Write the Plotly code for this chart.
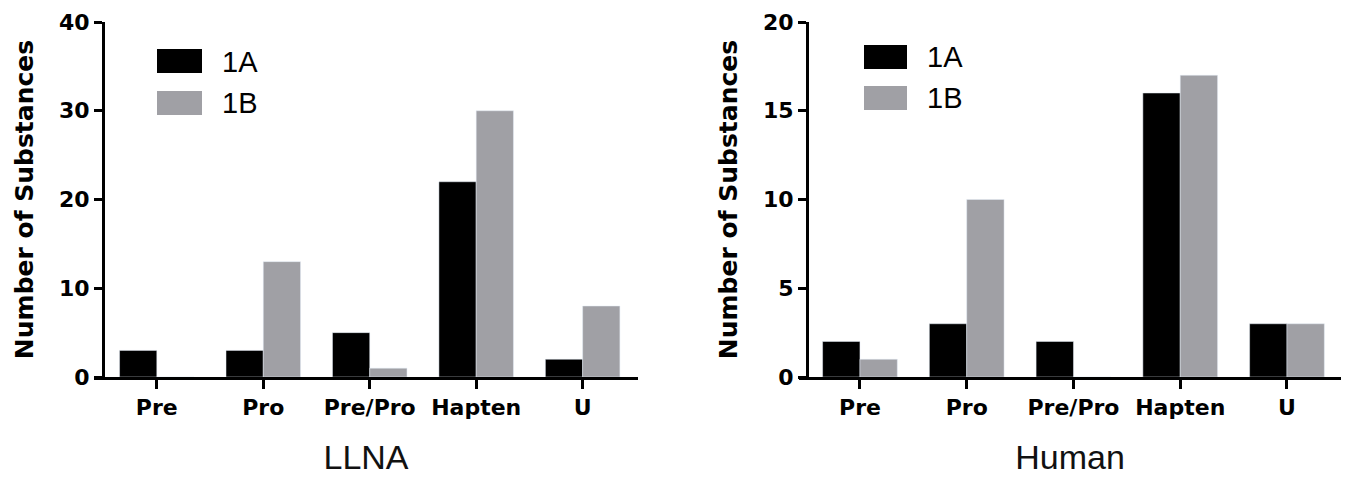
import plotly.graph_objects as go

categories = ["Pre", "Pro", "Pre/Pro", "Hapten", "U"]
llna_1a = [3, 3, 5, 22, 2]
llna_1b = [0, 13, 1, 30, 8]
human_1a = [2, 3, 2, 16, 3]
human_1b = [1, 10, 0, 17, 3]
series_names = ["1A", "1B"]
llna_ticks = [0, 10, 20, 30, 40]
human_ticks = [0, 5, 10, 15, 20]

BLACK = "#000000"
GRAY = "#a0a0a5"
W, H = 1350, 479
T, B = 22, 102
PH = H - T - B

fig = go.Figure()
fig.add_trace(go.Bar(x=categories, y=llna_1a, name=series_names[0], marker_color=BLACK,
                     xaxis="x", yaxis="y", showlegend=False))
fig.add_trace(go.Bar(x=categories, y=llna_1b, name=series_names[1], marker_color=GRAY,
                     xaxis="x", yaxis="y", showlegend=False))
fig.add_trace(go.Bar(x=categories, y=human_1a, name=series_names[0], marker_color=BLACK,
                     xaxis="x2", yaxis="y2", showlegend=False))
fig.add_trace(go.Bar(x=categories, y=human_1b, name=series_names[1], marker_color=GRAY,
                     xaxis="x2", yaxis="y2", showlegend=False))

tickfont = dict(family="DejaVu Sans", size=22, color="black", weight="bold")
titlefont_y = dict(family="DejaVu Sans", size=25, color="black", weight="bold")
titlefont_x = dict(family="Liberation Sans", size=34, color="#111111")

def xax(domain, rng, title):
    return dict(domain=domain, range=rng, showline=True, linecolor="black", linewidth=3,
                ticks="outside", ticklen=9, tickwidth=3, tickcolor="black",
                tickfont=tickfont, showgrid=False, zeroline=False,
                title=dict(text=title, font=titlefont_x, standoff=26))

def yax(pos, rng, ticks):
    return dict(anchor="free", position=pos, domain=[0, 1], range=rng,
                tickvals=ticks, showline=True, linecolor="black", linewidth=3,
                ticks="outside", ticklen=8, tickwidth=3, tickcolor="black",
                tickfont=tickfont, showgrid=False, zeroline=False,
                title=dict(text="Number of Substances", font=titlefont_y, standoff=17))

fig.update_layout(
    width=W, height=H,
    margin=dict(l=0, r=0, t=T, b=B),
    paper_bgcolor="white", plot_bgcolor="white",
    barmode="group", bargap=0.3, bargroupgap=0,
    xaxis=xax([94 / W, 638 / W], [-0.59, 4.52], "LLNA"),
    yaxis=yax(103 / W, [0, 40], llna_ticks),
    xaxis2=xax([799 / W, 1341 / W], [-0.571, 4.506], "Human"),
    yaxis2=yax(807 / W, [0, 20], human_ticks),
    showlegend=False,
)

# legend swatches and labels (drawn per panel)
def py(p):
    return (H - B - p) / PH

legend_specs = [
    (157, 202, [(49, 73), (91, 115)], 220, [62, 103]),
    (864, 907, [(45, 69), (86, 110)], 925, [57, 98]),
]
colors = [BLACK, GRAY]
for x0, x1, boxes, tx, tys in legend_specs:
    for (y0, y1), col, ty, nm in zip(boxes, colors, tys, series_names):
        fig.add_shape(type="rect", xref="paper", yref="paper",
                      x0=x0 / W, x1=x1 / W, y0=py(y1), y1=py(y0),
                      fillcolor=col, line=dict(width=0))
        fig.add_annotation(xref="paper", yref="paper", x=tx / W, y=py(ty),
                           xanchor="left", yanchor="middle", showarrow=False,
                           text=nm, font=dict(family="Liberation Sans", size=29, color="black"))

fig.write_html("out.html", config={"displayModeBar": False},
               post_script="document.body.style.margin='0';document.body.style.overflow='hidden';")
